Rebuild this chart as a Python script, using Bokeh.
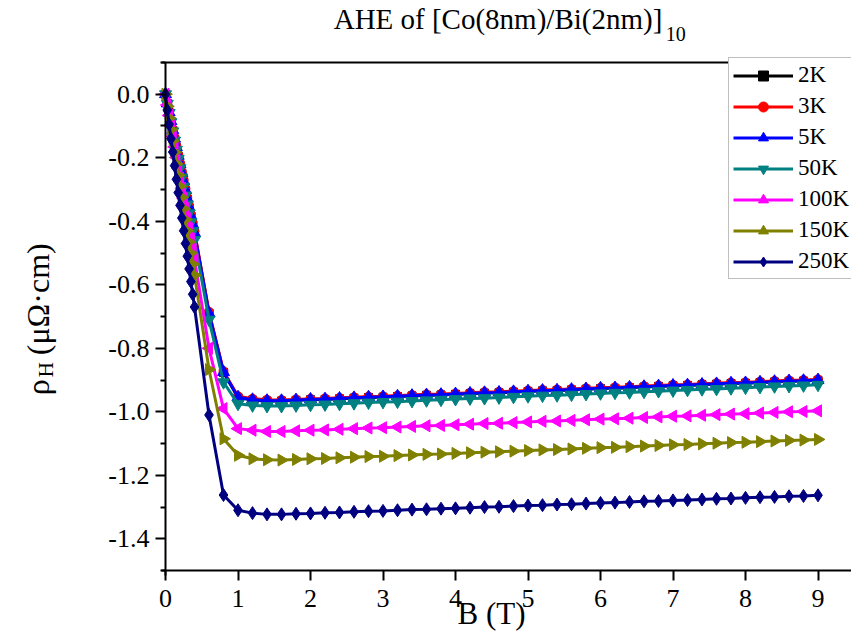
import math
from bokeh.plotting import figure
from bokeh.models import (Range1d, Label, LinearAxis, FixedTicker, Legend, LegendItem,
                          PrintfTickFormatter)
from bokeh.embed import file_html
from bokeh.resources import INLINE

# ---------------- data ----------------
B = [0.0, 0.025, 0.05, 0.075, 0.1, 0.125, 0.15, 0.175, 0.2, 0.225, 0.25, 0.275, 0.3, 0.325, 0.35, 0.375, 0.4,
     0.6, 0.8, 1.0, 1.2, 1.4,
     1.6, 1.8, 2.0, 2.2, 2.4, 2.6, 2.8, 3.0, 3.2, 3.4, 3.6, 3.8, 4.0, 4.2, 4.4, 4.6, 4.8, 5.0, 5.2,
     5.4, 5.6, 5.8, 6.0, 6.2, 6.4, 6.6, 6.8, 7.0, 7.2, 7.4, 7.6, 7.8, 8.0, 8.2, 8.4, 8.6, 8.8, 9.0]

rho_2K = [0.0, -0.029, -0.058, -0.086, -0.114, -0.141, -0.168, -0.195, -0.222, -0.249, -0.276, -0.303, -0.330,
          -0.357, -0.384, -0.411, -0.438,
          -0.690, -0.876, -0.955, -0.963, -0.966,
          -0.966, -0.964, -0.962, -0.961, -0.959, -0.957, -0.955, -0.954, -0.952, -0.950, -0.948, -0.947, -0.945,
          -0.943, -0.941, -0.940, -0.938, -0.936, -0.934, -0.933, -0.931, -0.929, -0.927, -0.926, -0.924, -0.922,
          -0.920, -0.918, -0.917, -0.915, -0.913, -0.911, -0.910, -0.908, -0.906, -0.904, -0.903, -0.901]

rho_3K = [0.0, -0.028, -0.055, -0.083, -0.110, -0.137, -0.164, -0.191, -0.218, -0.245, -0.271, -0.298, -0.325,
          -0.352, -0.378, -0.405, -0.432,
          -0.685, -0.872, -0.951, -0.959, -0.962,
          -0.963, -0.961, -0.959, -0.958, -0.956, -0.954, -0.952, -0.951, -0.949, -0.947, -0.945, -0.944, -0.942,
          -0.940, -0.938, -0.937, -0.935, -0.933, -0.931, -0.930, -0.928, -0.926, -0.924, -0.923, -0.921, -0.919,
          -0.917, -0.915, -0.914, -0.912, -0.910, -0.908, -0.907, -0.905, -0.903, -0.901, -0.900, -0.898]

rho_5K = [0.0, -0.029, -0.057, -0.085, -0.113, -0.140, -0.167, -0.194, -0.221, -0.248, -0.275, -0.302, -0.329,
          -0.356, -0.383, -0.410, -0.437,
          -0.690, -0.875, -0.954, -0.962, -0.965,
          -0.965, -0.963, -0.961, -0.960, -0.958, -0.956, -0.954, -0.953, -0.951, -0.949, -0.947, -0.946, -0.944,
          -0.942, -0.940, -0.939, -0.937, -0.935, -0.933, -0.932, -0.930, -0.928, -0.926, -0.925, -0.923, -0.921,
          -0.919, -0.917, -0.916, -0.914, -0.912, -0.910, -0.909, -0.907, -0.905, -0.903, -0.902, -0.900]

rho_50K = [0.0, -0.030, -0.059, -0.088, -0.117, -0.146, -0.175, -0.204, -0.233, -0.262, -0.291, -0.319, -0.347,
           -0.375, -0.403, -0.431, -0.459,
           -0.710, -0.907, -0.975, -0.980, -0.982,
           -0.982, -0.980, -0.978, -0.977, -0.975, -0.973, -0.971, -0.969, -0.968, -0.966, -0.964, -0.962, -0.960,
           -0.958, -0.957, -0.955, -0.953, -0.951, -0.949, -0.948, -0.946, -0.944, -0.942, -0.940, -0.939, -0.937,
           -0.935, -0.933, -0.931, -0.929, -0.928, -0.926, -0.924, -0.922, -0.920, -0.919, -0.917, -0.915]

rho_100K = [0.0, -0.034, -0.067, -0.100, -0.133, -0.166, -0.199, -0.232, -0.264, -0.296, -0.328, -0.360, -0.392,
            -0.424, -0.456, -0.488, -0.520,
            -0.800, -0.990, -1.053, -1.058, -1.062,
            -1.062, -1.060, -1.058, -1.057, -1.055, -1.053, -1.051, -1.050, -1.048, -1.046, -1.044, -1.043, -1.041,
            -1.039, -1.037, -1.036, -1.034, -1.032, -1.030, -1.029, -1.027, -1.025, -1.023, -1.022, -1.020, -1.018,
            -1.016, -1.014, -1.013, -1.011, -1.009, -1.007, -1.006, -1.004, -1.002, -1.000, -0.999, -0.997]

rho_150K = [0.0, -0.038, -0.075, -0.111, -0.147, -0.183, -0.219, -0.255, -0.290, -0.325, -0.360, -0.395, -0.430,
            -0.465, -0.500, -0.535, -0.570,
            -0.867, -1.085, -1.137, -1.148, -1.151,
            -1.152, -1.150, -1.148, -1.147, -1.145, -1.143, -1.141, -1.140, -1.138, -1.136, -1.134, -1.133, -1.131,
            -1.129, -1.127, -1.126, -1.124, -1.122, -1.120, -1.119, -1.117, -1.115, -1.113, -1.112, -1.110, -1.108,
            -1.106, -1.104, -1.103, -1.101, -1.099, -1.097, -1.096, -1.094, -1.092, -1.090, -1.089, -1.087]

rho_250K = [0.0, -0.050, -0.095, -0.140, -0.182, -0.225, -0.268, -0.310, -0.350, -0.390, -0.430, -0.470, -0.510,
            -0.550, -0.590, -0.630, -0.670,
            -1.010, -1.262, -1.310, -1.319, -1.323,
            -1.323, -1.321, -1.320, -1.318, -1.317, -1.315, -1.313, -1.312, -1.310, -1.308, -1.307, -1.305, -1.304,
            -1.302, -1.300, -1.299, -1.297, -1.295, -1.294, -1.292, -1.291, -1.289, -1.287, -1.286, -1.284, -1.282,
            -1.281, -1.279, -1.278, -1.276, -1.274, -1.273, -1.271, -1.269, -1.268, -1.266, -1.265, -1.263]

labels = ["2K", "3K", "5K", "50K", "100K", "150K", "250K"]
series = [rho_2K, rho_3K, rho_5K, rho_50K, rho_100K, rho_150K, rho_250K]
colors = ["#000000", "#FF0000", "#0000FF", "#008080", "#FF00FF", "#808000", "#000080"]
markers = ["square", "circle", "triangle", "inverted_triangle", "triangle", "triangle", "diamond"]
angles = [0, 0, 0, 0, math.pi / 2, -math.pi / 2, 0]
sizes = [8, 9, 12, 12, 12, 12, 13]

y_major = [0.0, -0.2, -0.4, -0.6, -0.8, -1.0, -1.2, -1.4]
y_minor = [0.1, -0.1, -0.3, -0.5, -0.7, -0.9, -1.1, -1.3, -1.5]
x_major = [0, 1, 2, 3, 4, 5, 6, 7, 8, 9]

SERIF = "Liberation Serif"

# frame spans the whole canvas; axes are placed at fixed data locations
p = figure(width=851, height=639, output_backend="svg", toolbar_location=None,
           x_range=Range1d(-2.276, 9.462), y_range=Range1d(-1.717, 0.2951),
           x_axis_type=None, y_axis_type=None,
           min_border=0, min_border_left=0, min_border_right=0, min_border_top=0, min_border_bottom=0,
           background_fill_color="white", border_fill_color="white")
p.title.visible = False
p.outline_line_color = None

xa = LinearAxis(fixed_location=-1.5, bounds=(-0.05, 9.462),
                ticker=FixedTicker(ticks=x_major, minor_ticks=[]))
xa.axis_line_width = 2
xa.major_tick_line_width = 2
xa.major_tick_out = 10
xa.major_tick_in = 0
xa.minor_tick_line_color = None
xa.major_label_text_font = SERIF
xa.major_label_text_font_size = "26px"
xa.major_label_text_color = "black"
xa.major_label_standoff = 9
p.add_layout(xa, "below")

ya = LinearAxis(fixed_location=0.0, bounds=(-1.515, 0.1),
                ticker=FixedTicker(ticks=y_major, minor_ticks=y_minor),
                formatter=PrintfTickFormatter(format="%.1f"))
ya.axis_line_width = 2
ya.major_tick_line_width = 2
ya.minor_tick_line_width = 2
ya.major_tick_out = 10
ya.major_tick_in = 0
ya.minor_tick_out = 5
ya.minor_tick_in = 0
ya.major_label_text_font = SERIF
ya.major_label_text_font_size = "26px"
ya.major_label_text_color = "black"
ya.major_label_standoff = 6
p.add_layout(ya, "left")

top = LinearAxis(fixed_location=0.1, bounds=(-0.05, 9.462), axis_line_width=2,
                 major_tick_line_color=None, minor_tick_line_color=None,
                 major_label_text_font_size="0px", ticker=FixedTicker(ticks=[], minor_ticks=[]))
p.add_layout(top, "above")

items = []
for lab, ys, col, mk, ang, sz in zip(labels, series, colors, markers, angles, sizes):
    r1 = p.line(B, ys, line_color=col, line_width=3)
    r2 = p.scatter(B, ys, marker=mk, angle=ang, size=sz, fill_color=col, line_color=col)
    items.append(LegendItem(label=lab, renderers=[r1, r2]))

legend = Legend(items=items, location=(728, 360), label_text_font=SERIF, label_text_font_size="23px",
                label_text_color="black",
                glyph_width=60, glyph_height=25, label_height=25, spacing=5, padding=4, margin=0,
                label_standoff=5, border_line_color="#808080", border_line_width=1,
                background_fill_color="white", background_fill_alpha=1.0)
p.add_layout(legend)

# title with subscript
p.add_layout(Label(x=2.32, y=0.2353, text="AHE of [Co(8nm)/Bi(2nm)]", text_font=SERIF,
                   text_font_size="29px", text_align="left", text_baseline="middle", text_color="black"))
p.add_layout(Label(x=6.90, y=0.1881, text="10", text_font=SERIF,
                   text_font_size="20px", text_align="left", text_baseline="middle", text_color="black"))

# x axis title
p.add_layout(Label(x=4.497, y=-1.634, text="B (T)", text_font=SERIF, text_font_size="31px",
                   text_align="center", text_baseline="middle", text_color="black"))

# y axis title with subscript (rotated)
p.add_layout(Label(x=-1.765, y=-0.948, text="ρ", text_font=SERIF, text_font_size="32px",
                   angle=math.pi / 2, text_align="left", text_baseline="middle", text_color="black"))
p.add_layout(Label(x=-1.655, y=-0.891, text="H", text_font=SERIF, text_font_size="21px",
                   angle=math.pi / 2, text_align="left", text_baseline="middle", text_color="black"))
p.add_layout(Label(x=-1.765, y=-0.822, text="(μΩ·cm)", text_font=SERIF, text_font_size="32px",
                   angle=math.pi / 2, text_align="left", text_baseline="middle", text_color="black"))

open("out.html", "w").write(file_html(p, INLINE))
